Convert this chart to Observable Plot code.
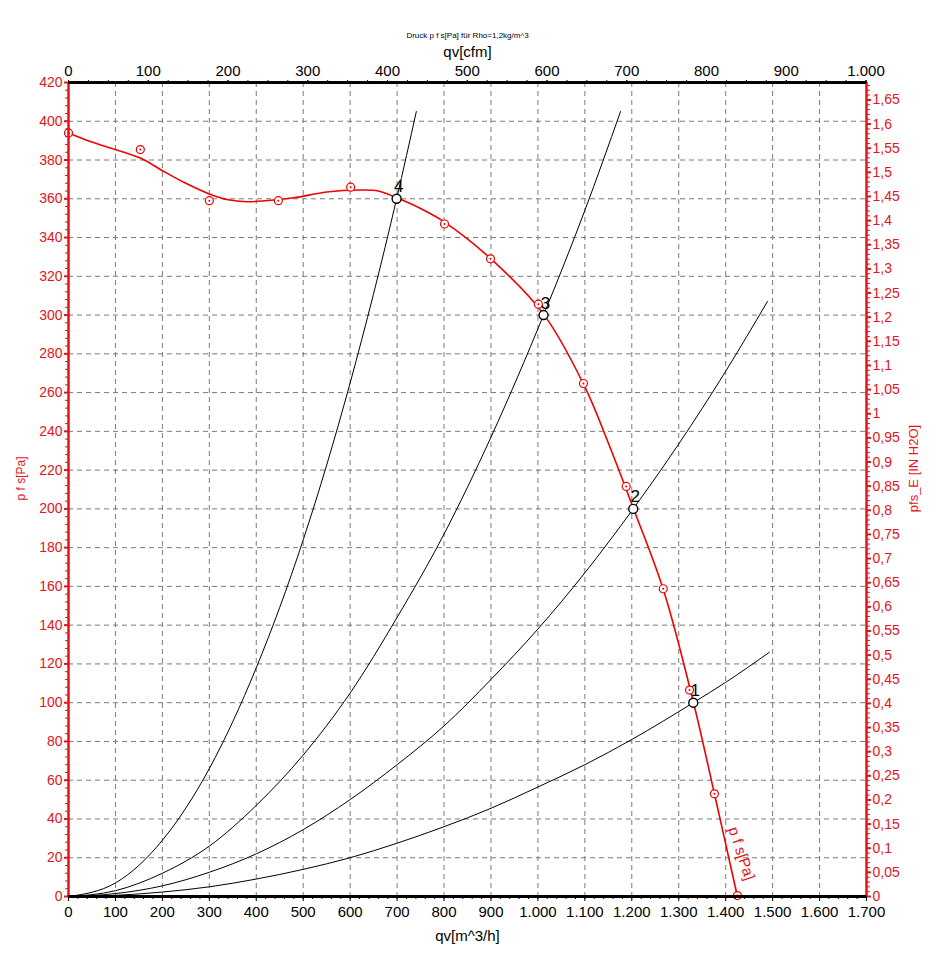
<!DOCTYPE html>
<html>
<head>
<meta charset="utf-8">
<script src="https://cdn.jsdelivr.net/npm/d3@7"></script>
<script src="https://cdn.jsdelivr.net/npm/@observablehq/plot@0.6"></script>
<style>
  html, body { margin: 0; padding: 0; background: white; }
  #chart svg { display: block; }
</style>
</head>
<body>
<div id="chart"></div>
<script>
// ---------- data ----------
const titleText = "Druck p f s[Pa] für Rho=1,2kg/m^3";
const topLabel = "qv[cfm]";
const bottomLabel = "qv[m^3/h]";
const leftLabel = "p f s[Pa]";
const rightLabel = "pfs_E [IN H2O]";
const curveLabel = "p f s[Pa]";

const xDomain = [0, 1700];
const yDomain = [0, 420];
const xMajor = d3.range(0, 1701, 100);
const xMinor = d3.range(0, 1701, 20);
const yMajor = d3.range(0, 421, 20);
const yMinor = d3.range(0, 421, 4);
const cfmMajor = d3.range(0, 1001, 100);
const cfmMinor = d3.range(0, 1001, 25);
const inMajor = d3.range(0, 34).map(i => i / 20);
const inMinor = d3.range(0, 169).map(i => i / 100);
const CFM = 1.699;      // m^3/h per cfm
const INH2O = 249.089;  // Pa per inch H2O

// fan curve p f s (smooth line)
const fanQ = [0, 53, 153, 200, 250, 300, 340, 380, 420, 480, 550, 620, 660, 699, 750, 801, 900, 1012, 1100, 1150, 1203, 1267, 1331, 1376, 1425];
const fanP = [394, 389, 381, 374.5, 368, 362.5, 359.5, 358.5, 359, 360.5, 363.5, 364.5, 364, 360.5, 355, 348, 329, 300.5, 263, 234, 200.5, 158.5, 100.5, 53, 0];

// measured points
const measQ = [0, 153, 300, 447, 601, 801, 899, 1001, 1097, 1188, 1267, 1323, 1376, 1425];
const measP = [394, 385.4, 359, 359, 366, 347, 329, 305.6, 264.7, 211.6, 158.8, 106.5, 53, 0.5];

// operating points
const opQ = [1331, 1203, 1012, 699];
const opP = [100, 200, 300, 360];
const opLabel = ["1", "2", "3", "4"];

// system curves
const sys1Q = [0, 100, 200, 300, 400, 500, 600, 700, 800, 900, 1000, 1100, 1200, 1331, 1400, 1493];
const sys1P = [0, 0.6, 2.3, 5, 9, 14, 20, 27.5, 36, 45.5, 56.5, 68, 81, 100, 110.5, 126];
const sys2Q = [0, 100, 200, 300, 400, 500, 600, 700, 800, 900, 1000, 1100, 1203, 1300, 1400, 1489];
const sys2P = [0, 1.5, 5.5, 12.5, 22, 34.5, 50, 68, 88, 112, 138, 167, 200, 233.5, 271, 307];
const sys3Q = [0, 100, 200, 300, 400, 500, 600, 700, 800, 900, 1012, 1100, 1176];
const sys3P = [0, 3, 12, 26, 47, 73, 105, 144, 187, 237, 300, 354, 405];
const sys4Q = [0, 100, 200, 300, 400, 500, 600, 699, 741];
const sys4P = [0, 7, 29, 66, 118, 184, 265, 360, 405];

// ---------- build ----------
const RED = "#e3141c";
const LINE_RED = "#f00000";
const FONT = "'Liberation Sans', Arial, sans-serif";
const de = d3.formatLocale({decimal: ",", thousands: ".", grouping: [3], currency: ["", "€"]});
const fmtInt = de.format(",");
const fmtIn = v => String(Math.round(v * 100) / 100).replace(".", ",");

const toRows = (qs, ps) => qs.map((q, i) => ({q, p: ps[i]}));
const fan = toRows(fanQ, fanP);
const meas = toRows(measQ, measP);
const ops = opQ.map((q, i) => ({q, p: opP[i], label: opLabel[i]}));
const systems = [[sys1Q, sys1P], [sys2Q, sys2P], [sys3Q, sys3P], [sys4Q, sys4P]].map(([a, b]) => toRows(a, b));
const fanEnd = fan[fan.length - 1];

const gridStyle = {stroke: "#7a7a7a", strokeOpacity: 1, strokeWidth: 1, strokeDasharray: "5,4"};

const chart = Plot.plot({
  width: 940,
  height: 975,
  marginLeft: 68,
  marginRight: 74,
  marginTop: 82,
  marginBottom: 79,
  x: {domain: xDomain},
  y: {domain: yDomain},
  style: {fontFamily: FONT, background: "white"},
  marks: [
    Plot.gridX(xMajor, gridStyle),
    Plot.gridY(yMajor, gridStyle),

    // system curves
    ...systems.map(s => Plot.line(s, {x: "q", y: "p", stroke: "black", strokeWidth: 1, curve: "monotone-x"})),

    // fan curve
    Plot.line(fan, {x: "q", y: "p", stroke: LINE_RED, strokeWidth: 1.6, curve: "catmull-rom"}),
    Plot.dot(meas, {x: "q", y: "p", r: 4, stroke: LINE_RED, strokeWidth: 1.2, fill: "white"}),
    Plot.dot(meas, {x: "q", y: "p", r: 1, fill: LINE_RED}),
    Plot.text([fanEnd], {x: "q", y: "p", text: () => curveLabel, rotate: 72, dx: 4, dy: -43, fill: RED, fontSize: 15}),

    // operating points
    Plot.dot(ops, {x: "q", y: "p", r: 4.5, stroke: "black", strokeWidth: 1.4, fill: "white"}),
    Plot.text(ops, {x: "q", y: "p", text: "label", dx: 2, dy: -12, fontSize: 17, fill: "black"}),

    // axis lines
    Plot.ruleX([xDomain[0]], {stroke: RED, strokeWidth: 2.5}),
    Plot.ruleX([xDomain[1]], {stroke: RED, strokeWidth: 2.5}),
    Plot.ruleY([yDomain[0]], {stroke: "black", strokeWidth: 3}),
    Plot.ruleY([yDomain[1]], {stroke: "black", strokeWidth: 3}),

    // bottom axis m^3/h
    Plot.axisX(xMinor, {anchor: "bottom", tickSize: 3, tickFormat: () => "", label: null, color: "black"}),
    Plot.axisX(xMajor, {anchor: "bottom", tickSize: 5, tickPadding: 5, tickFormat: fmtInt, label: null, fontSize: 15, color: "black"}),

    // top axis cfm
    Plot.axisX(cfmMinor.map(c => c * CFM), {anchor: "top", tickSize: 3, tickFormat: () => "", label: null, color: "black"}),
    Plot.axisX(cfmMajor.map(c => c * CFM), {anchor: "top", tickSize: 3, tickPadding: 4, tickFormat: d => fmtInt(Math.round(d / CFM)), label: null, fontSize: 15, color: "black"}),

    // left axis Pa
    Plot.axisY(yMinor, {anchor: "left", tickSize: 3, tickFormat: () => "", label: null, color: RED}),
    Plot.axisY(yMajor, {anchor: "left", tickSize: 4, tickPadding: 2, tickFormat: d => String(d), label: null, fontSize: 14, color: RED, strokeWidth: 2}),

    // right axis in H2O
    Plot.axisY(inMinor.map(v => v * INH2O), {anchor: "right", tickSize: 3, tickFormat: () => "", label: null, color: RED}),
    Plot.axisY(inMajor.map(v => v * INH2O), {anchor: "right", tickSize: 4, tickPadding: 2, tickFormat: d => fmtIn(d / INH2O), label: null, fontSize: 14, color: RED, strokeWidth: 2}),

    // titles
    Plot.text([titleText], {text: d => d, frameAnchor: "top", dy: -50, fontSize: 8, fill: "black"}),
    Plot.text([topLabel], {text: d => d, frameAnchor: "top", dy: -36, fontSize: 15, fill: "black"}),
    Plot.text([bottomLabel], {text: d => d, frameAnchor: "bottom", dy: 44, fontSize: 15, fill: "black"}),
    Plot.text([leftLabel], {text: d => d, frameAnchor: "left", textAnchor: "middle", dx: -47, dy: -11, rotate: -90, fontSize: 12, fill: RED}),
    Plot.text([rightLabel], {text: d => d, frameAnchor: "right", textAnchor: "middle", dx: 47, dy: -21, rotate: -90, fontSize: 13, fill: RED})
  ]
});

document.getElementById("chart").appendChild(chart);
</script>
</body>
</html>
